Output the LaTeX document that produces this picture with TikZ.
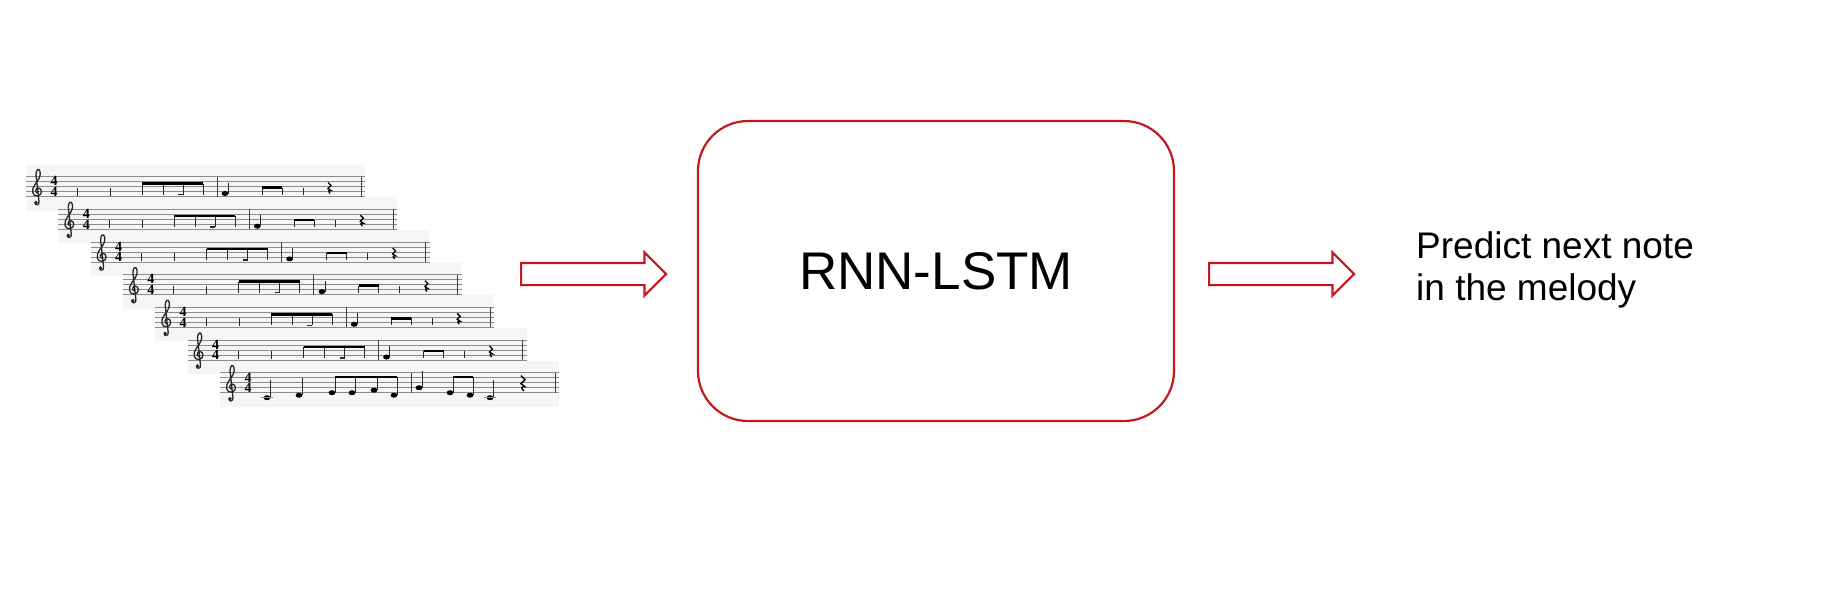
\documentclass[tikz,border=0pt]{standalone}
\usepackage{fontspec}
\setmainfont{Liberation Sans}
\newfontfamily\digitfont{Liberation Serif}
\usetikzlibrary{shapes.arrows}

\definecolor{boxred}{RGB}{196,24,30}

% one note with its stem: x, head y, stem top
\newcommand\melnote[3]{%
  \fill (#1,#2) ellipse (3.4 and 2.5);
  \draw[notestem] (#1+3.1,#2) -- (#1+3.1,#3);}
\newcommand\ledger[1]{\draw[staffline] (#1-6,15) -- (#1+6,15);}

\begin{document}
\begin{tikzpicture}[x=1pt,y=-1pt]
  \tikzset{
    stripbg/.style={fill=black!4},
    staffline/.style={draw=black!45,line width=0.8},
    notestem/.style={draw=black!85,line width=0.9},
    notebeam/.style={draw=black,line width=2.4},
    barline/.style={draw=black!75,line width=1},
    treble/.style={draw=black!85,line width=1.3,line cap=round},
    timesig/.style={inner sep=0,font=\digitfont\bfseries\fontsize{14}{14}\selectfont},
    blockarrow/.style={single arrow,draw=boxred,line width=2.2,fill=white,anchor=tail,
      minimum height=145,single arrow head extend=10.5,inner xsep=0,inner ysep=10},
    modelbox/.style={draw=boxred,line width=2.2,rounded corners=50,
      minimum width=476,minimum height=300,font=\fontsize{53}{60}\selectfont},
    predict/.style={inner sep=0,align=left,font=\fontsize{37}{42}\selectfont},
    staffbase/.pic={
      \fill[stripbg] (0,-22) rectangle (339,24);
      \foreach \l in {-2,...,2}
        \draw[staffline] (0,\l*5) -- (339,\l*5);
      \draw[treble] (11.5,6.5) .. controls (9,6) and (9,1.5) .. (12.5,1.5)
        .. controls (16,1.5) and (17,8) .. (12,9.5)
        .. controls (6,10.5) and (5,3) .. (9,-2)
        .. controls (13,-7) and (15,-11) .. (14,-15)
        .. controls (13,-19) and (10,-17) .. (10,-12)
        -- (13,15) .. controls (13.5,19) and (9,19) .. (9,16.5);
      \fill[black!85] (10,16) circle (1.8);
      \node[timesig] at (28,-5.3) {4};
      \node[timesig] at (28,5.3) {4};
      \draw[barline] (191,-10) -- (191,10);
      \draw[barline] (335,-10) -- (335,10);
    },
    tickstrip/.pic={
      \pic {staffbase};
      \foreach \x in {51,84} \draw[notestem] (\x,1) -- (\x,9);
      \foreach \x in {116,137,157,177} \draw[notestem] (\x,-3) -- (\x,8);
      \draw[notebeam] (116,-3) -- (177,-3);
      \draw[notestem,line width=1.6] (152,8) -- (157,8);
      \melnote{199}{7}{-4}
      \foreach \x in {236,256} \draw[notestem] (\x,1) -- (\x,8);
      \draw[notebeam] (236,1) -- (256,1);
      \draw[notestem] (277,1) -- (277,8);
      \draw[line width=1.3] (302,-4) -- (305,-1) -- (302,2) -- (305,4)
        .. controls (302,3) and (302,6) .. (304,7);
    },
    fullstrip/.pic={
      \pic {staffbase};
      \melnote{47}{15}{-3} \ledger{47}
      \melnote{79}{12.5}{-5}
      \melnote{112}{10}{-6} \melnote{132}{10}{-6}
      \melnote{154}{7.5}{-6} \melnote{174}{12.5}{-6}
      \draw[notebeam] (115.1,-6) -- (177.1,-6);
      \melnote{199}{5}{-12}
      \melnote{230}{10}{-6} \melnote{250}{12.5}{-6}
      \draw[notebeam] (233.1,-6) -- (253.1,-6);
      \melnote{270}{15}{-3} \ledger{270}
      \draw[line width=1.4] (301,-7) -- (305,-3) -- (301,1) -- (305,4)
        .. controls (301,3) and (301,7) .. (304,8);
    },
  }
  \useasboundingbox[fill=white] (0,0) rectangle (1834,590);

  % melody scores
  \foreach \i in {0,...,5}
    \pic (melody\i) at (26+32.3*\i,186.5+32.7*\i) {tickstrip};
  \pic (melody6) at (220,382.7) {fullstrip};

  % model and output
  \node[blockarrow] (inarrow) at (520,274) {};
  \node[modelbox] (rnn) at (936,271) {RNN-LSTM};
  \node[blockarrow] (outarrow) at (1208,274) {};
  \node[predict,anchor=north west] (predict) at (1416,231) {Predict next note\\in the melody};
\end{tikzpicture}
\end{document}
